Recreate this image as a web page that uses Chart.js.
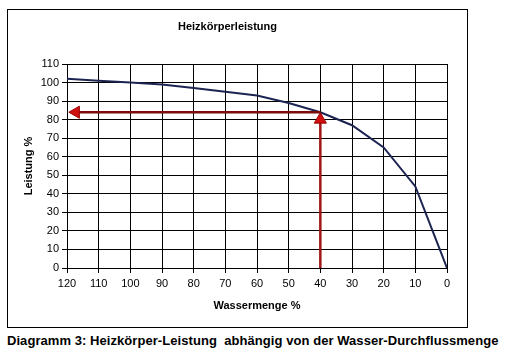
<!DOCTYPE html>
<html>
<head>
<meta charset="utf-8">
<script src="https://cdn.jsdelivr.net/npm/chart.js@4"></script>
<style>
body { margin: 0; background: #fff; font-family: "Liberation Sans", Arial, sans-serif; }
#box { position: absolute; left: 7px; top: 9px; width: 459px; height: 317px; border: 1px solid #000; }
#caption { position: absolute; left: 7px; top: 333px; font-size: 13px; letter-spacing: 0.06px; font-weight: bold; white-space: pre; color: #000; }
</style>
</head>
<body>
<div id="box"><canvas id="chart" width="459" height="317"></canvas></div>
<div id="caption">Diagramm 3: Heizkörper-Leistung  abhängig von der Wasser-Durchflussmenge</div>
<script>
"use strict"

// Wassermenge % (x) und Leistung % (y)
const wassermenge = [120, 110, 100, 90, 80, 70, 60, 50, 40, 30, 20, 10, 0];
const leistung = [102, 101, 100, 99, 97, 95, 93, 89, 84, 77, 65, 44, 0];

// Pfeile: horizontal von 40 % nach links, vertikal von 0 nach oben
const pfeilHorizontal = [[40, 84], [117.2, 84]];
const pfeilVertikal = [[40, 0], [40, 80]];

const toPoints = (xs, ys) => xs.map((x, i) => ({ x: x, y: ys[i] }));
const pairs = arr => arr.map(p => ({ x: p[0], y: p[1] }));

const ctx = document.getElementById('chart').getContext('2d');

new Chart(ctx, {
    type: 'line',
    data: {
        datasets: [
            {
                data: pairs(pfeilHorizontal),
                borderColor: '#7a0c0c',
                borderWidth: 2.5,
                pointStyle: 'triangle',
                pointRadius: [0, 7],
                pointRotation: [0, -90],
                pointBackgroundColor: '#d01010',
                pointBorderColor: '#9a0000',
                pointBorderWidth: 1
            },
            {
                data: pairs(pfeilVertikal),
                borderColor: '#a01515',
                borderWidth: 2.5,
                pointStyle: 'triangle',
                pointRadius: [0, 7],
                pointRotation: [0, 0],
                pointBackgroundColor: '#d01010',
                pointBorderColor: '#9a0000',
                pointBorderWidth: 1
            },
            {
                data: toPoints(wassermenge, leistung),
                borderColor: '#1c2452',
                borderWidth: 2,
                pointRadius: 0,
                tension: 0
            }
        ]
    },
    options: {
        responsive: false,
        animation: false,
        devicePixelRatio: 1,
        layout: { padding: { left: 0, right: 20, top: 0, bottom: 0 } },
        plugins: {
            legend: { display: false },
            tooltip: { enabled: false },
            title: {
                display: true,
                text: 'Heizkörperleistung',
                color: '#000',
                font: { family: '"Liberation Sans", Arial', size: 11, weight: 'bold' },
                padding: { top: 10, bottom: 30.8 }
            }
        },
        scales: {
            x: {
                type: 'linear',
                reverse: true,
                min: 0,
                max: 120,
                afterFit: scale => { scale.height = 59; },
                ticks: {
                    stepSize: 10,
                    color: '#000',
                    padding: 4,
                    maxRotation: 0,
                    font: { family: '"Liberation Sans", Arial', size: 11 }
                },
                grid: { color: '#000', lineWidth: 1, tickLength: 5 },
                border: { color: '#000', width: 1 },
                title: {
                    display: true,
                    text: 'Wassermenge %',
                    color: '#000',
                    font: { family: '"Liberation Sans", Arial', size: 11, weight: 'bold' },
                    padding: { top: 0, bottom: 14.4 }
                }
            },
            y: {
                min: 0,
                max: 110,
                afterFit: scale => { scale.width = 59; },
                ticks: {
                    stepSize: 10,
                    color: '#000',
                    padding: 3,
                    font: { family: '"Liberation Sans", Arial', size: 11 }
                },
                grid: { color: '#000', lineWidth: 1, tickLength: 5 },
                border: { color: '#000', width: 1 },
                title: {
                    display: true,
                    text: 'Leistung %',
                    color: '#000',
                    font: { family: '"Liberation Sans", Arial', size: 11, weight: 'bold' },
                    padding: { top: 14.4, bottom: 0 }
                }
            }
        }
    }
});
</script>
</body>
</html>
